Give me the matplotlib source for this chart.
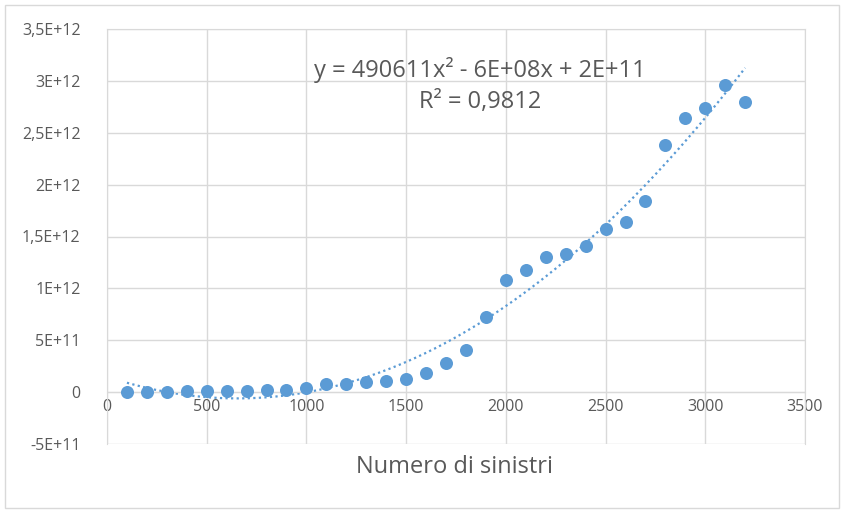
import numpy as np
import matplotlib.pyplot as plt
from matplotlib.patches import Rectangle
from matplotlib.ticker import FixedLocator, FixedFormatter

plt.rcParams['font.family'] = ['Open Sans', 'DejaVu Sans']

# Numero di sinistri vs. valore
sinistri = [100, 200, 300, 400, 500, 600, 700, 800, 900, 1000, 1100,
            1200, 1300, 1400, 1500, 1600, 1700, 1800, 1900, 2000, 2100,
            2200, 2300, 2400, 2500, 2600, 2700, 2800, 2900, 3000, 3100, 3200]
valori = [0.0, 0.0, 0.0, 1.2e10, 1.2e10, 1.2e10, 1.2e10, 2.5e10, 2.5e10,
          4.0e10, 7.5e10, 7.5e10, 9.3e10, 1.1e11, 1.25e11, 1.8e11, 2.8e11,
          4.1e11, 7.2e11, 1.08e12, 1.18e12, 1.3e12, 1.33e12, 1.41e12,
          1.57e12, 1.635e12, 1.84e12, 2.38e12, 2.64e12, 2.74e12, 2.96e12,
          2.8e12]

y_ticks = [-5e11, 0, 5e11, 1e12, 1.5e12, 2e12, 2.5e12, 3e12, 3.5e12]
y_labels = ['-5E+11', '0', '5E+11', '1E+12', '1,5E+12', '2E+12',
            '2,5E+12', '3E+12', '3,5E+12']
x_ticks = [0, 500, 1000, 1500, 2000, 2500, 3000, 3500]

blue = '#5b9bd5'
grid_col = '#d9d9d9'
text_col = '#595959'

fig = plt.figure(figsize=(8.44, 5.12), dpi=100)
fig.patches.append(Rectangle((5 / 844, 4 / 512), 834 / 844, 503 / 512,
                             transform=fig.transFigure, fill=False,
                             edgecolor='#d9d9d9', linewidth=1))
ax = fig.add_axes([107 / 844, 1 - 444 / 512, 698 / 844, 415 / 512])

ax.scatter(sinistri, valori, s=88, color=blue, zorder=3, linewidths=0)

# polynomial trendline (order 2)
coef = np.polyfit(sinistri, valori, 2)
xs = np.linspace(min(sinistri), max(sinistri), 200)
ax.plot(xs, np.polyval(coef, xs), linestyle=(0, (1, 1.5)), color=blue,
        linewidth=1.6, zorder=2)

ax.set_xlim(0, 3500)
ax.set_ylim(-5e11, 3.5e12)
ax.xaxis.set_major_locator(FixedLocator(x_ticks))
ax.yaxis.set_major_locator(FixedLocator(y_ticks))
ax.yaxis.set_major_formatter(FixedFormatter(y_labels))
ax.grid(True, color=grid_col, linewidth=1)
ax.set_axisbelow(True)

for side in ['top', 'right', 'left']:
    ax.spines[side].set_color(grid_col)
ax.spines['bottom'].set_position(('data', 0))
ax.spines['bottom'].set_color(grid_col)
ax.tick_params(length=0, labelsize=11.5, labelcolor=text_col)
ax.tick_params(axis='y', pad=19)
ax.tick_params(axis='x', pad=5)

ax.text(0.534, 0.901, 'y = 490611x² - 6E+08x + 2E+11', transform=ax.transAxes,
        ha='center', va='center', fontsize=17, color=text_col)
ax.text(0.534, 0.824, 'R² = 0,9812', transform=ax.transAxes,
        ha='center', va='center', fontsize=17, color=text_col)

fig.text(455 / 844, 1 - 467 / 512, 'Numero di sinistri', ha='center',
         va='center', fontsize=17, color=text_col)

fig.savefig('out.png', dpi=100)
